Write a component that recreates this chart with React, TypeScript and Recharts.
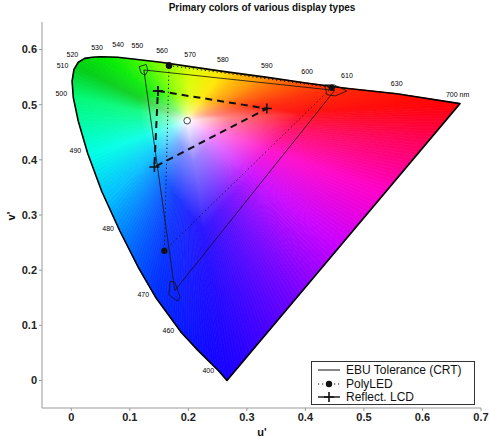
import { ScatterChart, Scatter, XAxis, YAxis } from 'recharts'

// spectral locus in u'v', 400 nm -> 700 nm
const locusU = [0.266, 0.252, 0.235, 0.216, 0.188, 0.144, 0.115, 0.083, 0.052, 0.028, 0.012, 0.0035, 0.0014, 0.0046, 0.012, 0.023, 0.036, 0.05, 0.079, 0.113, 0.153, 0.203, 0.262, 0.332, 0.404, 0.469, 0.556, 0.664]
const locusV = [0.0, 0.017, 0.035, 0.055, 0.087, 0.151, 0.204, 0.271, 0.343, 0.412, 0.47, 0.513, 0.543, 0.564, 0.577, 0.584, 0.586, 0.587, 0.586, 0.582, 0.577, 0.569, 0.56, 0.55, 0.539, 0.53, 0.52, 0.502]

// white point (open circle)
const whiteU = 0.198
const whiteV = 0.471

// EBU triangle and its tolerance regions
const ebuU = [0.124, 0.45, 0.177, 0.124]
const ebuV = [0.563, 0.526, 0.163, 0.563]
const ebuTolGU = [0.116, 0.128, 0.131, 0.126, 0.119, 0.116]
const ebuTolGV = [0.569, 0.573, 0.562, 0.553, 0.558, 0.569]
const ebuTolRU = [0.433, 0.449, 0.471, 0.451, 0.437, 0.433]
const ebuTolRV = [0.536, 0.536, 0.525, 0.516, 0.518, 0.536]
const ebuTolBU = [0.169, 0.177, 0.186, 0.181, 0.167, 0.169]
const ebuTolBV = [0.18, 0.178, 0.151, 0.144, 0.155, 0.18]

// PolyLED primaries
const polyU = [0.167, 0.445, 0.159, 0.167]
const polyV = [0.571, 0.531, 0.235, 0.571]

// Reflective LCD primaries
const lcdU = [0.148, 0.334, 0.142, 0.148]
const lcdV = [0.525, 0.493, 0.387, 0.525]

// wavelength annotations
const waveLabels = ['400', '460', '470', '480', '490', '500', '510', '520', '530', '540', '550', '560', '570', '580', '590', '600', '610', '630', '700 nm']
const waveU = [0.234, 0.166, 0.123, 0.063, 0.007, -0.017, -0.015, 0.002, 0.044, 0.08, 0.113, 0.155, 0.203, 0.259, 0.334, 0.403, 0.471, 0.556, 0.66]
const waveV = [0.018, 0.091, 0.155, 0.276, 0.416, 0.52, 0.571, 0.591, 0.604, 0.609, 0.607, 0.598, 0.591, 0.582, 0.571, 0.56, 0.553, 0.538, 0.518]

const uTicks = [0, 0.1, 0.2, 0.3, 0.4, 0.5, 0.6, 0.7]
const vTicks = [0, 0.1, 0.2, 0.3, 0.4, 0.5, 0.6]

const FONT = '"Liberation Sans", Arial, Helvetica, sans-serif'

const zip = (us: number[], vs: number[]) => us.map((u, i) => ({ u, v: vs[i] }))

// hue around the white point (angle in degrees, counter-clockwise from +u)
const HUES: number[][] = [
  [0, 255, 0, 40], [4, 255, 0, 0], [12, 255, 40, 0], [18, 255, 80, 0], [30, 255, 150, 0],
  [54, 255, 230, 0], [87, 215, 255, 0], [113, 140, 255, 0], [127, 70, 250, 0], [142, 0, 235, 0],
  [154, 0, 205, 20], [168, 0, 250, 120], [199, 0, 255, 230], [225, 0, 190, 255], [240, 0, 130, 255],
  [260, 0, 45, 255], [278, 20, 0, 255], [300, 110, 0, 255], [320, 200, 0, 255], [340, 255, 0, 200],
  [355, 255, 0, 90], [360, 255, 0, 40],
]

function hueAt(deg: number) {
  let a = deg % 360
  if (a < 0) a += 360
  for (let i = 1; i < HUES.length; i++) {
    if (a <= HUES[i][0]) {
      const p = HUES[i - 1]
      const q = HUES[i]
      const t = (a - p[0]) / (q[0] - p[0] || 1)
      return [1, 2, 3].map((k) => p[k] + (q[k] - p[k]) * t)
    }
  }
  return [255, 0, 0]
}

const mix = (c: number[], s: number) =>
  `rgb(${c.map((x) => Math.round(255 - (255 - x) * s)).join(',')})`

// fan of triangles from the white point (first point) to the locus outline
function renderLocus(props: any) {
  const pts: { x: number; y: number }[] = props.points
  const c = pts[0]
  const ring = pts.slice(1)
  const tris: any[] = []
  for (let i = 0; i < ring.length; i++) {
    const a = ring[i]
    const b = ring[(i + 1) % ring.length]
    const n = Math.max(1, Math.ceil(Math.hypot(b.x - a.x, b.y - a.y) / 4))
    for (let k = 0; k < n; k++) {
      const p = { x: a.x + ((b.x - a.x) * k) / n, y: a.y + ((b.y - a.y) * k) / n }
      const q = { x: a.x + ((b.x - a.x) * (k + 1)) / n, y: a.y + ((b.y - a.y) * (k + 1)) / n }
      tris.push([p, q])
    }
  }
  return (
    <g>
      <defs>
        {tris.map(([p, q], i) => {
          const mx = (p.x + q.x) / 2
          const my = (p.y + q.y) / 2
          const hue = hueAt((Math.atan2(c.y - my, mx - c.x) * 180) / Math.PI)
          return (
            <linearGradient key={i} id={`lg${i}`} gradientUnits="userSpaceOnUse" x1={c.x} y1={c.y} x2={mx} y2={my}>
              <stop offset="0" stopColor="#ffffff" />
              <stop offset="0.16" stopColor={mix(hue, 0.5)} />
              <stop offset="0.42" stopColor={mix(hue, 0.92)} />
              <stop offset="1" stopColor={mix(hue, 1)} />
            </linearGradient>
          )
        })}
      </defs>
      {tris.map(([p, q], i) => (
        <polygon
          key={i}
          points={`${c.x},${c.y} ${p.x},${p.y} ${q.x},${q.y}`}
          fill={`url(#lg${i})`}
          stroke={`url(#lg${i})`}
          strokeWidth={0.8}
        />
      ))}
      <polygon
        points={ring.map((p) => `${p.x},${p.y}`).join(' ')}
        fill="none"
        stroke="#000"
        strokeWidth={1.6}
        strokeLinejoin="round"
      />
    </g>
  )
}

const noMark = () => <g />

const dotMark = (p: any) => <circle cx={p.cx} cy={p.cy} r={3.2} fill="#111" />

const plusMark = (p: any) => (
  <path d={`M${p.cx - 5},${p.cy}H${p.cx + 5}M${p.cx},${p.cy - 5}V${p.cy + 5}`} stroke="#111" strokeWidth={1.6} />
)

const ringMark = (p: any) => <circle cx={p.cx} cy={p.cy} r={3.3} fill="none" stroke="#333" strokeWidth={0.9} />

const waveMark = (p: any) => (
  <text x={p.cx} y={p.cy} dy="0.35em" textAnchor="middle" fontSize={7} fill="#000" fontFamily={FONT}>
    {p.payload.name}
  </text>
)

function Legend() {
  const rows = [
    { y: 370, label: 'EBU Tolerance (CRT)' },
    { y: 384, label: 'PolyLED' },
    { y: 397, label: 'Reflect. LCD' },
  ]
  return (
    <g fontFamily={FONT} fontSize={12} fill="#111">
      <rect x={311.5} y={361.5} width={163} height={43} fill="#fff" stroke="#333" strokeWidth={1} />
      <line x1={318} y1={rows[0].y} x2={340} y2={rows[0].y} stroke="#111" strokeWidth={1} />
      <line x1={318} y1={rows[1].y} x2={340} y2={rows[1].y} stroke="#111" strokeWidth={1} strokeDasharray="1.2 2.8" />
      <circle cx={329} cy={rows[1].y} r={3.2} fill="#111" />
      <line x1={318} y1={rows[2].y} x2={340} y2={rows[2].y} stroke="#111" strokeWidth={1.4} />
      <path d={`M324,${rows[2].y}H334M329,${rows[2].y - 5}V${rows[2].y + 5}`} stroke="#111" strokeWidth={1.6} />
      {rows.map((r) => (
        <text key={r.label} x={346} y={r.y} dy="0.35em">
          {r.label}
        </text>
      ))}
    </g>
  )
}

export default function App() {
  const axisTick = { fontSize: 11, fontWeight: 'bold', fill: '#222', fontFamily: FONT }
  return (
    <div style={{ position: 'absolute', left: 0, top: 0, width: 489, height: 438, background: '#fff' }}>
      <ScatterChart width={489} height={438} margin={{ top: 22, right: 8, bottom: 10, left: 6 }}>
        <XAxis
          type="number"
          dataKey="u"
          domain={[-0.05, 0.7]}
          ticks={uTicks}
          allowDataOverflow
          height={20}
          tickSize={3}
          tickMargin={2}
          stroke="#999"
          tick={axisTick}
        />
        <XAxis
          xAxisId="top"
          orientation="top"
          type="number"
          dataKey="u"
          domain={[-0.05, 0.7]}
          ticks={uTicks}
          allowDataOverflow
          height={0}
          mirror
          tick={false}
          tickSize={4}
          stroke="#999"
        />
        <YAxis
          type="number"
          dataKey="v"
          domain={[-0.05, 0.65]}
          ticks={vTicks}
          allowDataOverflow
          width={36}
          tickSize={3}
          tickMargin={2}
          stroke="#999"
          tick={axisTick}
        />
        <YAxis
          yAxisId="right"
          orientation="right"
          type="number"
          dataKey="v"
          domain={[-0.05, 0.65]}
          ticks={vTicks}
          allowDataOverflow
          width={0}
          mirror
          tick={false}
          tickSize={4}
          stroke="#999"
        />
        <Scatter
          data={[{ u: whiteU, v: whiteV }, ...zip(locusU, locusV)]}
          line={renderLocus}
          shape={noMark}
          isAnimationActive={false}
        />
        <Scatter data={zip(ebuU, ebuV)} line={{ stroke: '#111', strokeWidth: 0.8 }} shape={noMark} fill="#111" isAnimationActive={false} />
        <Scatter data={zip(ebuTolGU, ebuTolGV)} line={{ stroke: '#111', strokeWidth: 0.8 }} shape={noMark} fill="#111" isAnimationActive={false} />
        <Scatter data={zip(ebuTolRU, ebuTolRV)} line={{ stroke: '#111', strokeWidth: 0.8 }} shape={noMark} fill="#111" isAnimationActive={false} />
        <Scatter data={zip(ebuTolBU, ebuTolBV)} line={{ stroke: '#111', strokeWidth: 0.8 }} shape={noMark} fill="#111" isAnimationActive={false} />
        <Scatter
          data={zip(polyU, polyV)}
          line={{ stroke: '#111', strokeWidth: 1, strokeDasharray: '1.2 2.8' }}
          shape={dotMark}
          fill="#111"
          isAnimationActive={false}
        />
        <Scatter
          data={zip(lcdU, lcdV)}
          line={{ stroke: '#111', strokeWidth: 2, strokeDasharray: '7 5' }}
          shape={plusMark}
          fill="#111"
          isAnimationActive={false}
        />
        <Scatter data={[{ u: whiteU, v: whiteV }]} shape={ringMark} isAnimationActive={false} />
        <Scatter
          data={waveLabels.map((name, i) => ({ u: waveU[i], v: waveV[i], name }))}
          shape={waveMark}
          isAnimationActive={false}
        />
      </ScatterChart>
      <svg width={489} height={438} style={{ position: 'absolute', left: 0, top: 0, pointerEvents: 'none' }}>
        <text x={262} y={11} textAnchor="middle" fontSize={10} fontWeight="bold" fontFamily={FONT} fill="#111">
          Primary colors of various display types
        </text>
        <text x={262} y={436} textAnchor="middle" fontSize={11} fontWeight="bold" fontFamily={FONT} fill="#111">
          u'
        </text>
        <text
          x={15}
          y={216}
          textAnchor="middle"
          fontSize={11}
          fontWeight="bold"
          fontFamily={FONT}
          fill="#111"
          transform="rotate(-90 15 216)"
        >
          v'
        </text>
        <Legend />
      </svg>
    </div>
  )
}
